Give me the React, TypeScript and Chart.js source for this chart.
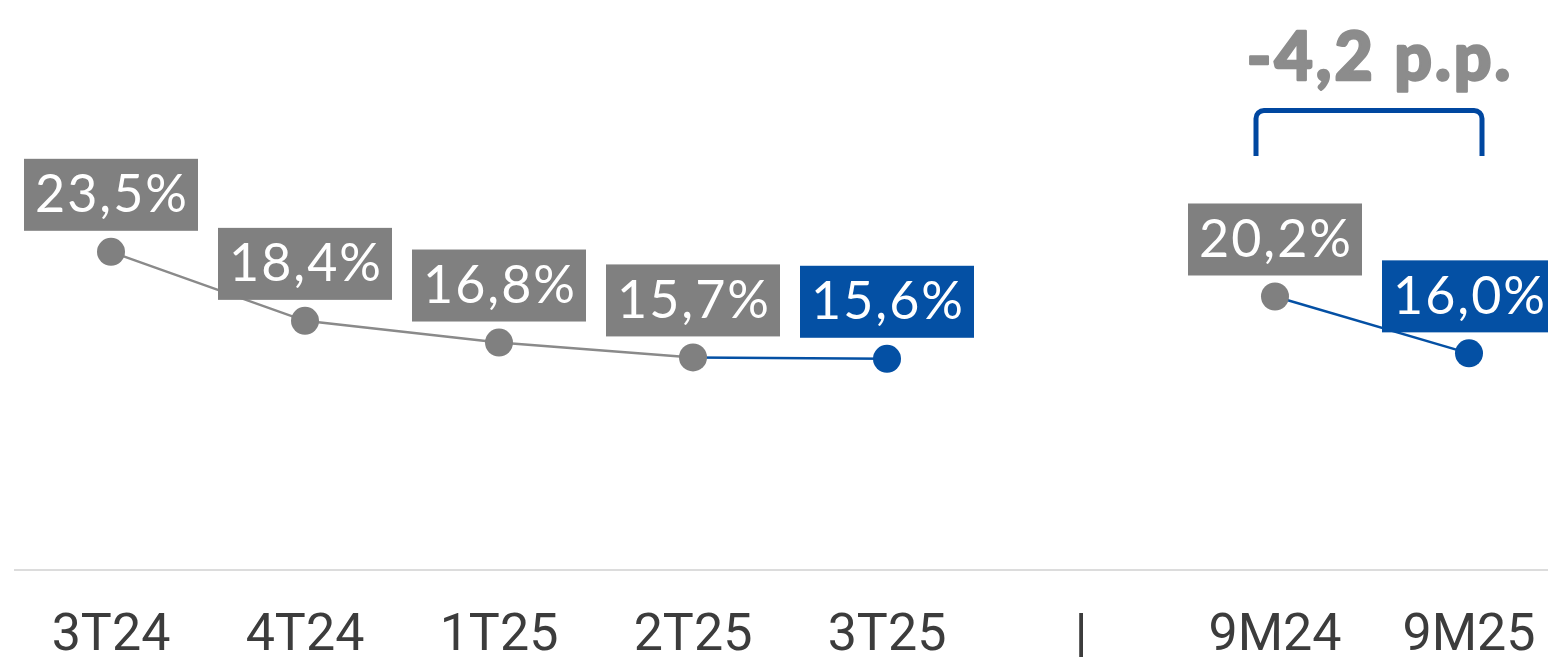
import React, { useEffect, useRef } from "react";
import { Chart, registerables } from "chart.js";

Chart.register(...registerables);

const categories = ["3T24", "4T24", "1T25", "2T25", "3T25", "|", "9M24", "9M25"];
const values: (number | null)[] = [23.5, 18.4, 16.8, 15.7, 15.6, null, 20.2, 16.0];
const valueLabels = ["23,5%", "18,4%", "16,8%", "15,7%", "15,6%", "", "20,2%", "16,0%"];
const highlighted = [false, false, false, false, true, false, false, true];
const deltaLabel = "-4,2 p.p.";
const deltaFromIndex = 6;
const deltaToIndex = 7;

const GRAY_BOX = "#808080";
const GRAY_LINE = "#8a8a8a";
const BLUE = "#0450a4";
const BRACKET_BLUE = "#0047a0";
const AXIS_GRAY = "#dcdcdc";
const TICK_COLOR = "#3c3c3c";
const DELTA_GRAY = "#8c8c8c";

const LABEL_FONT = "Lato, 'Open Sans', sans-serif";
const TICK_FONT = "Roboto, 'Open Sans', sans-serif";

const overlayPlugin = {
  id: "overlay",
  beforeDatasetsDraw(chart: any) {
    const { ctx, scales } = chart;
    const x = scales.x;
    const y = scales.y;
    const step = x.getPixelForValue(1) - x.getPixelForValue(0);
    const left = x.getPixelForValue(0) - step / 2;
    const yz = y.getPixelForValue(0);
    ctx.save();
    ctx.strokeStyle = AXIS_GRAY;
    ctx.lineWidth = 2;
    ctx.beginPath();
    ctx.moveTo(left, yz);
    ctx.lineTo(chart.width, yz);
    ctx.stroke();
    ctx.restore();
  },
  afterDatasetsDraw(chart: any) {
    const { ctx } = chart;
    const meta = chart.getDatasetMeta(0);
    ctx.save();
    meta.data.forEach((pt: any, i: number) => {
      if (values[i] == null) return;
      const px = pt.x;
      const py = pt.y;
      const w = 174;
      const h = 72;
      ctx.fillStyle = highlighted[i] ? BLUE : GRAY_BOX;
      ctx.fillRect(px - w / 2, py - 21 - h, w, h);
      ctx.fillStyle = "#ffffff";
      ctx.font = `400 52px ${LABEL_FONT}`;
      (ctx as any).letterSpacing = "2px";
      ctx.textAlign = "center";
      ctx.textBaseline = "alphabetic";
      ctx.fillText(valueLabels[i], px + 1, py - 21 - 18.5);
    });
    ctx.restore();
  },
  afterDraw(chart: any) {
    const { ctx, scales } = chart;
    const x = scales.x;
    const xa = x.getPixelForValue(deltaFromIndex) - 19;
    const xb = x.getPixelForValue(deltaToIndex) + 13;
    const top = 110.5;
    const bottom = 156;
    const r = 8;
    ctx.save();
    ctx.strokeStyle = BRACKET_BLUE;
    ctx.lineWidth = 5;
    ctx.beginPath();
    ctx.moveTo(xa, bottom);
    ctx.lineTo(xa, top + r);
    ctx.arcTo(xa, top, xa + r, top, r);
    ctx.lineTo(xb - r, top);
    ctx.arcTo(xb, top, xb, top + r, r);
    ctx.lineTo(xb, bottom);
    ctx.stroke();
    ctx.fillStyle = DELTA_GRAY;
    ctx.strokeStyle = DELTA_GRAY;
    ctx.lineWidth = 2.5;
    ctx.lineJoin = "round";
    ctx.font = `900 66px ${LABEL_FONT}`;
    (ctx as any).letterSpacing = "3px";
    ctx.textAlign = "center";
    ctx.textBaseline = "alphabetic";
    const tx = (xa + xb) / 2 + 11;
    ctx.fillText(deltaLabel, tx, 80);
    ctx.strokeText(deltaLabel, tx, 80);
    ctx.restore();
  },
};

export default function App() {
  const canvasRef = useRef<HTMLCanvasElement>(null);

  useEffect(() => {
    if (!canvasRef.current) return;
    const chart = new Chart(canvasRef.current, {
      type: "line",
      data: {
        labels: categories,
        datasets: [
          {
            data: values,
            spanGaps: false,
            borderWidth: 2.5,
            borderColor: GRAY_LINE,
            segment: {
              borderColor: (c: any) => (highlighted[c.p1DataIndex] ? BLUE : GRAY_LINE),
            },
            pointRadius: 14,
            pointHoverRadius: 14,
            pointBorderWidth: 0,
            pointBackgroundColor: highlighted.map((h) => (h ? BLUE : GRAY_BOX)),
            tension: 0,
          },
        ],
      },
      options: {
        animation: false,
        responsive: false,
        events: [],
        layout: { padding: { left: 111, right: 79, top: 28.4, bottom: 0 } },
        plugins: { legend: { display: false }, tooltip: { enabled: false } },
        scales: {
          x: {
            type: "category",
            offset: false,
            grid: { display: false, drawTicks: false },
            border: { display: false },
            ticks: {
              color: TICK_COLOR,
              font: { family: TICK_FONT, size: 52, lineHeight: 1.2 },
              padding: 36,
              maxRotation: 0,
              autoSkip: false,
            },
            afterFit: (s: any) => {
              s.height = 88;
              s.paddingLeft = 0;
              s.paddingRight = 0;
            },
          },
          y: { display: false, min: 0, max: 40 },
        },
      },
      plugins: [overlayPlugin],
    });
    return () => chart.destroy();
  }, []);

  return (
    <div style={{ position: "fixed", left: 0, top: 0, width: 1548, height: 658, background: "#fff", overflow: "hidden" }}>
      <canvas ref={canvasRef} width={1548} height={658} style={{ display: "block" }} />
    </div>
  );
}
